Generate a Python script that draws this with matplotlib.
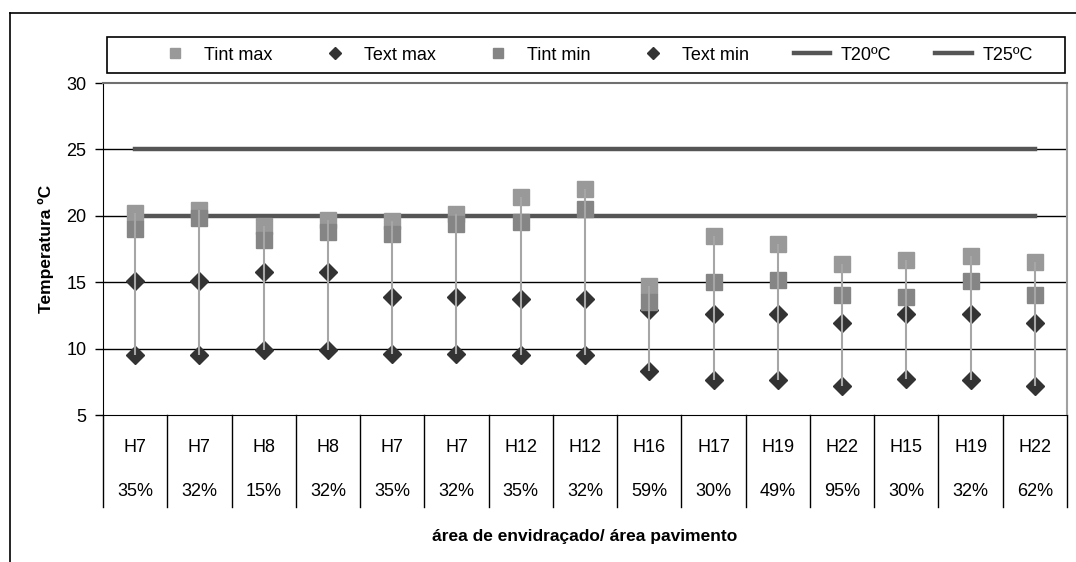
import matplotlib
matplotlib.use("Agg")
import matplotlib.pyplot as plt
from matplotlib.lines import Line2D
import numpy as np

plt.rcParams['font.family'] = ['Liberation Sans', 'DejaVu Sans']

# data
casas = ["H7", "H7", "H8", "H8", "H7", "H7", "H12", "H12", "H16", "H17",
         "H19", "H22", "H15", "H19", "H22"]
racio = ["35%", "32%", "15%", "32%", "35%", "32%", "35%", "32%", "59%", "30%",
         "49%", "95%", "30%", "32%", "62%"]
tint_max = [20.2, 20.4, 19.2, 19.7, 19.6, 20.1, 21.4, 22.0, 14.7, 18.5,
            17.9, 16.4, 16.7, 17.0, 16.5]
tint_min = [19.0, 19.8, 18.2, 18.8, 18.6, 19.4, 19.5, 20.5, 13.5, 15.0,
            15.2, 14.0, 13.9, 15.1, 14.0]
text_max = [15.1, 15.1, 15.8, 15.8, 13.9, 13.9, 13.7, 13.7, 12.9, 12.6,
            12.6, 11.9, 12.6, 12.6, 11.9]
text_min = [9.5, 9.5, 9.9, 9.9, 9.6, 9.6, 9.5, 9.5, 8.3, 7.6,
            7.6, 7.2, 7.7, 7.6, 7.2]
t20 = 20
t25 = 25

W, H = 1076, 562
fig = plt.figure(figsize=(W / 100, H / 100), dpi=100)
ax = fig.add_axes([103 / W, 1 - 415 / H, (1067 - 103) / W, (415 - 83) / H])

x = np.arange(len(casas))
n = len(casas)

# horizontal grid
for v in [10, 15, 20, 25]:
    ax.axhline(v, color="black", lw=1, zorder=1)

# reference lines
ax.plot([x[0], x[-1]], [t20, t20], color="#555555", lw=3.2, zorder=2,
        label="T20ºC")
ax.plot([x[0], x[-1]], [t25, t25], color="#555555", lw=3.2, zorder=2,
        label="T25ºC")

# markers
ax.plot(x, tint_max, ls="none", marker="s", ms=11, color="#999999", zorder=3,
        label="Tint max")
ax.plot(x, text_max, ls="none", marker="D", ms=9, color="#333333", zorder=3,
        label="Text max")
ax.plot(x, tint_min, ls="none", marker="s", ms=11, color="#858585", zorder=3,
        label="Tint min")
ax.plot(x, text_min, ls="none", marker="D", ms=9, color="#333333", zorder=3,
        label="Text min")

# high-low lines
all_vals = np.array([tint_max, tint_min, text_max, text_min])
ax.vlines(x, all_vals.min(axis=0), all_vals.max(axis=0), color="#a6a6a6",
          lw=1.5, zorder=4)

ax.set_xlim(-0.5, n - 0.5)
ax.set_ylim(5, 30)
ax.set_yticks([5, 10, 15, 20, 25, 30])
ax.tick_params(axis="y", labelsize=13, length=6, width=1, pad=6)
ax.set_xticks([])
ax.spines["left"].set_color("black")
ax.spines["bottom"].set_color("black")
ax.spines["top"].set_color("#707070")
ax.spines["top"].set_linewidth(1.5)
ax.spines["right"].set_color("#a0a0a0")
ax.spines["right"].set_linewidth(1.5)
ax.set_ylabel("Temperatura ºC", fontsize=12.5, fontweight="bold", labelpad=9)

# category table under the axis
tr = ax.get_xaxis_transform()
depth = -(507 - 415) / (415 - 83)
for b in np.arange(-0.5, n, 1.0):
    ax.plot([b, b], [0, depth], color="black", lw=1, transform=tr,
            clip_on=False)
for i in range(n):
    ax.text(x[i], -(447 - 415) / 332, casas[i], transform=tr, ha="center",
            va="center", fontsize=13)
    ax.text(x[i], -(492 - 415) / 332, racio[i], transform=tr, ha="center",
            va="center", fontsize=13)
fig.text((103 + 1067) / 2 / W, 1 - 537 / H, "área de envidraçado/ área pavimento",
         ha="center", va="center", fontsize=12.5, fontweight="bold")

# legend
handles, labels = ax.get_legend_handles_labels()
order = ["Tint max", "Text max", "Tint min", "Text min", "T20ºC", "T25ºC"]
hmap = dict(zip(labels, handles))
leg = fig.legend([hmap[k] for k in order], order, ncol=6, loc="center",
                 bbox_to_anchor=(150 / W, 1 - 73 / H, (1040 - 150) / W, 36 / H),
                 mode="expand", fontsize=13, frameon=False,
                 markerscale=0.7, handlelength=2.0, handletextpad=0.6,
                 borderaxespad=0)
fig.add_artist(plt.Rectangle((107 / W, 1 - 73 / H), (1065 - 107) / W, 36 / H,
                             fill=False, edgecolor="black", lw=1.2,
                             transform=fig.transFigure))

# outer chart border
fig.add_artist(Line2D([10 / W, 1], [1 - 13 / H, 1 - 13 / H], color="black",
                      lw=1.2))
fig.add_artist(Line2D([10 / W, 10 / W], [0, 1 - 13 / H], color="black",
                      lw=1.2))

fig.savefig("out.png", dpi=100)
